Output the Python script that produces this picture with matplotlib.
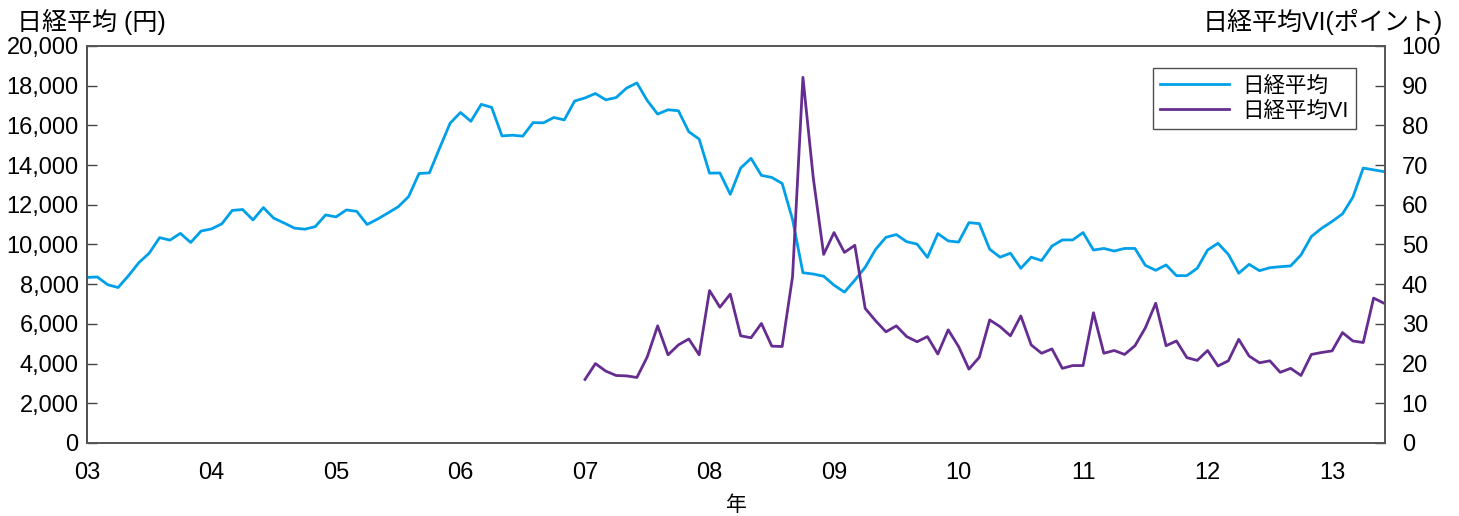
import matplotlib
matplotlib.use("Agg")
import matplotlib.pyplot as plt

plt.rcParams['font.family'] = ['Liberation Sans', 'Noto Sans CJK JP']

# monthly, Jan 2003 - Jun 2013 (yen)
nikkei = [
    8340, 8363, 7973, 7831, 8425, 9083, 9563, 10344, 10219, 10560, 10101, 10677,
    10784, 11042, 11715, 11762, 11236, 11859, 11326, 11082, 10824, 10771, 10899, 11489,
    11388, 11741, 11669, 11009, 11277, 11584, 11900, 12414, 13574, 13607, 14872, 16111,
    16650, 16206, 17060, 16906, 15468, 15505, 15457, 16141, 16128, 16399, 16274, 17226,
    17383, 17604, 17288, 17400, 17876, 18138, 17249, 16569, 16786, 16737, 15681, 15308,
    13592, 13604, 12526, 13850, 14339, 13481, 13377, 13073, 11260, 8577, 8512, 8400,
    7950, 7600, 8200, 8850, 9750, 10360, 10500, 10140, 10020, 9350, 10550, 10180,
    10120, 11100, 11050, 9760, 9360, 9560, 8800, 9360, 9190, 9920, 10230, 10230,
    10600, 9720, 9800, 9670, 9800, 9800, 8950, 8700, 8970, 8430, 8430, 8800,
    9720, 10060, 9500, 8550, 9000, 8680, 8830, 8880, 8920, 9470, 10400, 10820,
    11160, 11540, 12380, 13850, 13760, 13670,
]

# monthly, Jan 2007 - Jun 2013 (points)
nikkei_vi = [
    16.0, 20.0, 18.1, 17.0, 16.9, 16.5, 21.7, 29.5, 22.2, 24.7, 26.2, 22.2,
    38.4, 34.2, 37.5, 27.0, 26.5, 30.1, 24.4, 24.3, 41.9, 92.1, 66.7, 47.5,
    53.0, 48.0, 49.8, 33.9, 30.8, 28.0, 29.5, 26.8, 25.5, 26.8, 22.4, 28.5,
    24.3, 18.6, 21.6, 31.0, 29.3, 27.0, 32.0, 24.7, 22.6, 23.7, 18.8, 19.5,
    19.5, 32.8, 22.6, 23.3, 22.3, 24.5, 29.0, 35.2, 24.5, 25.7, 21.5, 20.8,
    23.3, 19.4, 20.7, 26.1, 21.9, 20.2, 20.7, 17.8, 18.8, 17.0, 22.3, 22.8,
    23.2, 27.8, 25.7, 25.3, 36.5, 35.2,
]

year_labels = ['03', '04', '05', '06', '07', '08', '09', '10', '11', '12', '13']
vi_start = 48  # Jan 2007

x_nk = list(range(len(nikkei)))
x_vi = list(range(vi_start, vi_start + len(nikkei_vi)))

blue = '#00a0e9'
purple = '#662d91'

fig = plt.figure(figsize=(14.59, 5.16), dpi=100)
ax = fig.add_axes([0.0596, 0.1415, 0.8897, 0.7694])
ax2 = ax.twinx()

l1, = ax.plot(x_nk, nikkei, color=blue, lw=2.0, label='日経平均')
l2, = ax2.plot(x_vi, nikkei_vi, color=purple, lw=2.0, label='日経平均VI')

ax.set_xlim(0, 125.1)
ax.set_ylim(0, 20000)
ax2.set_ylim(0, 100)

ax.set_yticks(range(0, 20001, 2000))
ax.set_yticklabels([f'{v:,}' for v in range(0, 20001, 2000)])
ax2.set_yticks(range(0, 101, 10))
ax.set_xticks(range(0, 121, 12))
ax.set_xticklabels(year_labels)

ax.tick_params(axis='y', direction='in', length=7.5, width=1, color='#444444',
               labelsize=17, pad=6)
ax2.tick_params(axis='y', direction='in', length=7.5, width=1, color='#444444',
                labelsize=17, pad=12)
ax.tick_params(axis='x', length=0, labelsize=17, pad=14)

for a in (ax, ax2):
    for s in a.spines.values():
        s.set_color('#555555')
        s.set_linewidth(1.2)
ax.spines['left'].set_color('#222222')

ax.set_xlabel('年', fontsize=15, labelpad=8)

fig.text(0.0117, 0.957, '日経平均 (円)', fontsize=18, ha='left', va='center')
fig.text(0.989, 0.957, '日経平均VI(ポイント)', fontsize=18, ha='right', va='center')

leg = ax2.legend(handles=[l1, l2], loc='upper right', bbox_to_anchor=(0.9776, 0.9446),
                 fontsize=15.5, frameon=True, fancybox=False, handlelength=3.2,
                 handletextpad=0.6, labelspacing=0.2, borderpad=0.35,
                 borderaxespad=0)
leg.get_frame().set_edgecolor('#222222')
leg.get_frame().set_linewidth(1.0)

fig.savefig('out.png', dpi=100)
